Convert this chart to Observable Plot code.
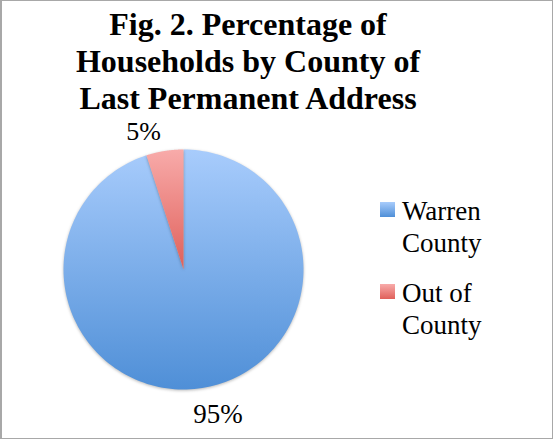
<!DOCTYPE html>
<html>
<head>
<meta charset="utf-8">
<script src="https://cdn.jsdelivr.net/npm/d3@7"></script>
<script src="https://cdn.jsdelivr.net/npm/@observablehq/plot@0.6"></script>
<style>
  html, body { margin: 0; padding: 0; background: #fff; }
  #wrap { position: relative; width: 553px; height: 439px; overflow: hidden; font-family: "Liberation Serif", serif; }
  #frame { position: absolute; left: 0; top: 0; width: 553px; height: 439px; box-sizing: border-box;
           border-top: 1px solid #a8a8a8; border-left: 2px solid #a8a8a8; border-right: 1px solid #a8a8a8; border-bottom: 1px solid #a8a8a8; pointer-events: none; }
  #title { position: absolute; left: 0; top: 6px; width: 496px; text-align: center; font-weight: bold;
           font-size: 32px; line-height: 37px; color: #000; }
  #plot { position: absolute; left: 0; top: 0; }
  .leg { position: absolute; left: 380px; font-size: 27px; line-height: 32px; color: #000; }
  .leg .sw { position: absolute; left: 0; top: 7px; width: 15px; height: 15px; }
  .leg .tx { position: absolute; left: 22px; top: 0; white-space: nowrap; }
  g[aria-label="line"] path { filter: drop-shadow(0px 1px 1.5px rgba(0,0,0,0.28)); }
</style>
</head>
<body>
<div id="wrap">
  <div id="plot"></div>
  <div id="title"></div>
  <div id="legend"></div>
  <div id="frame"></div>
</div>
<script>
const titleLines = ["Fig. 2. Percentage of", "Households by County of", "Last Permanent Address"];
const categories = ["Warren County", "Out of County"];
const legendLines = [["Warren", "County"], ["Out of", "County"]];
const values = [95, 5];
const valueLabels = ["95%", "5%"];
const gradientIds = ["gBlue", "gRed"];
const gradientStops = [["#a8ccfc", "#4f8fd7"], ["#f8abaa", "#e0605a"]];

// title
document.getElementById("title").innerHTML = titleLines.join("<br>");

// pie geometry via d3.pie
const arcs = d3.pie().sort(null).value(d => d)(values);
const slicePoints = arcs.map((a, i) => {
  const n = 180;
  const pts = [{x: 0, y: 0}];
  for (let k = 0; k <= n; k++) {
    const t = a.startAngle + (a.endAngle - a.startAngle) * k / n;
    pts.push({x: Math.sin(t), y: Math.cos(t)});
  }
  pts.push({x: 0, y: 0});
  return pts;
});
const labelData = arcs.map((a, i) => {
  const m = (a.startAngle + a.endAngle) / 2;
  return {x: 1.2 * Math.sin(m), y: 1.2 * Math.cos(m), label: valueLabels[i]};
});

function defsMark() {
  const ns = "http://www.w3.org/2000/svg";
  const defs = document.createElementNS(ns, "defs");
  gradientIds.forEach((id, i) => {
    const g = document.createElementNS(ns, "linearGradient");
    g.setAttribute("id", id);
    g.setAttribute("x1", "0"); g.setAttribute("y1", "0");
    g.setAttribute("x2", "0"); g.setAttribute("y2", "1");
    gradientStops[i].forEach((c, j) => {
      const s = document.createElementNS(ns, "stop");
      s.setAttribute("offset", j === 0 ? "0" : "1");
      s.setAttribute("stop-color", c);
      g.appendChild(s);
    });
    defs.appendChild(g);
  });
  return defs;
}

const chart = Plot.plot({
  width: 553,
  height: 439,
  margin: 0,
  style: {background: "transparent", overflow: "visible"},
  x: {domain: [-1, 1], range: [63, 303], axis: null},
  y: {domain: [-1, 1], range: [389, 149], axis: null},
  marks: [
    defsMark,
    ...slicePoints.map((pts, i) =>
      Plot.line(pts, {x: "x", y: "y", fill: `url(#${gradientIds[i]})`, stroke: "none"})
    ),
    Plot.text(labelData.filter(d => d.x < 0), {x: "x", y: "y", text: "label", textAnchor: "end", dy: 4,
      fontSize: 26, fontFamily: "Liberation Serif", fill: "#000"}),
    Plot.text(labelData.filter(d => d.x >= 0), {x: "x", y: "y", text: "label", textAnchor: "middle", dx: 12, dy: 3,
      fontSize: 27, fontFamily: "Liberation Serif", fill: "#000"})
  ]
});
document.getElementById("plot").appendChild(chart);

// legend
const legendTops = [195, 277];
const legend = document.getElementById("legend");
categories.forEach((c, i) => {
  const item = document.createElement("div");
  item.className = "leg";
  item.style.top = legendTops[i] + "px";
  item.title = c;
  const sw = document.createElement("div");
  sw.className = "sw";
  sw.style.background = `linear-gradient(${gradientStops[i][0]}, ${gradientStops[i][1]})`;
  const tx = document.createElement("div");
  tx.className = "tx";
  tx.innerHTML = legendLines[i].join("<br>");
  item.appendChild(sw);
  item.appendChild(tx);
  legend.appendChild(item);
});
</script>
</body>
</html>
